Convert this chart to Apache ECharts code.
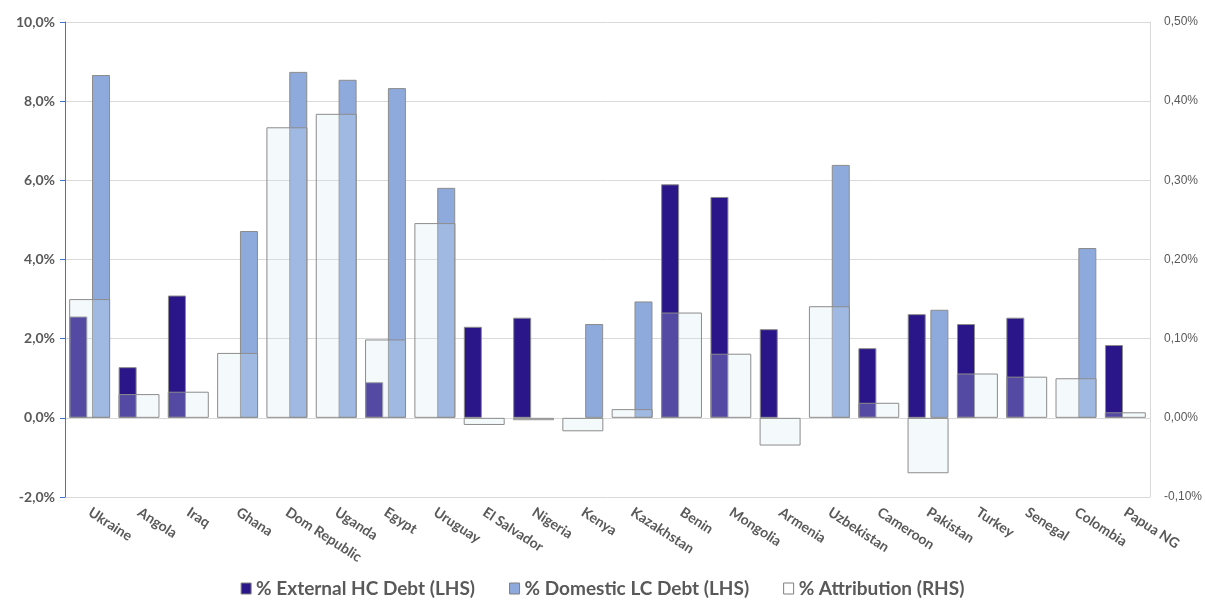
<!DOCTYPE html>
<html>
<head>
<meta charset="utf-8">
<script src="https://cdn.jsdelivr.net/npm/echarts@6/dist/echarts.min.js"></script>
<style>
  html, body { margin: 0; padding: 0; background: #fff; }
  #chart { width: 1205px; height: 601px; }
</style>
</head>
<body>
<div id="chart"></div>
<script>
// countries on the x axis
const countries = ['Ukraine', 'Angola', 'Iraq', 'Ghana', 'Dom Republic', 'Uganda', 'Egypt', 'Uruguay',
  'El Salvador', 'Nigeria', 'Kenya', 'Kazakhstan', 'Benin', 'Mongolia', 'Armenia', 'Uzbekistan',
  'Cameroon', 'Pakistan', 'Turkey', 'Senegal', 'Colombia', 'Papua NG'];

// % External HC Debt (LHS)
const externalHC = [2.56, 1.28, 3.09, 0, 0, 0, 0.9, 0, 2.3, 2.53, 0, 0, 5.9, 5.58, 2.24, 0, 1.76, 2.62, 2.37, 2.53, 0, 1.84];
// % Domestic LC Debt (LHS)
const domesticLC = [8.66, 0, 0, 4.72, 8.74, 8.54, 8.33, 5.81, 0, 0, 2.37, 2.94, 0, 0, 0, 6.39, 0, 2.73, 0, 0, 4.29, 0];
// % Attribution (RHS)
const attribution = [0.15, 0.03, 0.033, 0.082, 0.367, 0.384, 0.099, 0.246, -0.009, -0.003, -0.017, 0.011,
  0.133, 0.081, -0.035, 0.141, 0.019, -0.07, 0.056, 0.052, 0.05, 0.007];

const names = ['% External HC Debt (LHS)', '% Domestic LC Debt (LHS)', '% Attribution (RHS)'];

// empty cells in the sheet -> no bar at all
const noZero = arr => arr.map(v => (v === 0 ? null : v));

const chart = echarts.init(document.getElementById('chart'));
const labelFont = 'Lato, "Noto Sans", sans-serif';

chart.setOption({
  animation: false,
  grid: { left: 65, right: 52, top: 22, bottom: 104 },
  legend: {
    top: 574,
    left: 'center',
    icon: 'rect',
    itemWidth: 10,
    itemHeight: 11,
    itemGap: 34,
    textStyle: { fontFamily: labelFont, fontWeight: 'bold', fontSize: 19, color: '#595959' },
    data: [
      { name: names[0], itemStyle: { color: '#2a1688', borderColor: '#7f7f7f', borderWidth: 1 } },
      { name: names[1], itemStyle: { color: '#8eaadc', borderColor: '#7f7f7f', borderWidth: 1 } },
      { name: names[2], itemStyle: { color: '#ffffff', borderColor: '#7f7f7f', borderWidth: 1 } }
    ]
  },
  xAxis: [
    {
      type: 'category',
      data: countries,
      position: 'bottom',
      axisLine: { show: false },
      axisTick: { show: false },
      axisLabel: {
        interval: 0,
        rotate: -33,
        margin: 14,
        fontFamily: labelFont,
        fontWeight: 'bold',
        fontSize: 14,
        color: '#595959'
      }
    },
    {
      type: 'category',
      data: countries,
      show: false
    }
  ],
  yAxis: [
    {
      type: 'value',
      min: -2,
      max: 10,
      interval: 2,
      axisLine: { show: true, lineStyle: { color: '#4472c4', width: 1 } },
      axisTick: { show: true, length: 5, lineStyle: { color: '#4472c4' } },
      splitLine: { lineStyle: { color: '#d9d9d9' } },
      axisLabel: {
        margin: 10,
        fontFamily: labelFont,
        fontWeight: 'bold',
        fontSize: 14,
        color: '#595959',
        formatter: v => v.toFixed(1).replace('.', ',') + '%'
      }
    },
    {
      type: 'value',
      min: -0.1,
      max: 0.5,
      interval: 0.1,
      position: 'right',
      axisLine: { show: true, lineStyle: { color: '#d9d9d9' } },
      axisTick: { show: false },
      splitLine: { show: false },
      axisLabel: {
        margin: 14,
        fontFamily: '"Liberation Sans", Arial, sans-serif',
        fontSize: 12,
        color: '#595959',
        formatter: v => v.toFixed(2).replace('.', ',') + '%'
      }
    }
  ],
  series: [
    {
      name: names[0],
      type: 'bar',
      xAxisIndex: 0,
      yAxisIndex: 0,
      data: noZero(externalHC),
      barWidth: 18,
      barGap: '26%',
      itemStyle: { color: '#2a1688', borderColor: '#8c8c8c', borderWidth: 1 }
    },
    {
      name: names[1],
      type: 'bar',
      xAxisIndex: 0,
      yAxisIndex: 0,
      data: noZero(domesticLC),
      barWidth: 18,
      barGap: '26%',
      itemStyle: { color: '#8eaadc', borderColor: '#8c8c8c', borderWidth: 1 }
    },
    {
      name: names[2],
      type: 'bar',
      xAxisIndex: 1,
      yAxisIndex: 1,
      data: attribution,
      barWidth: 41,
      z: 5,
      itemStyle: { color: 'rgba(210,230,242,0.25)', borderColor: '#8c8c8c', borderWidth: 1 }
    }
  ]
});
</script>
</body>
</html>
